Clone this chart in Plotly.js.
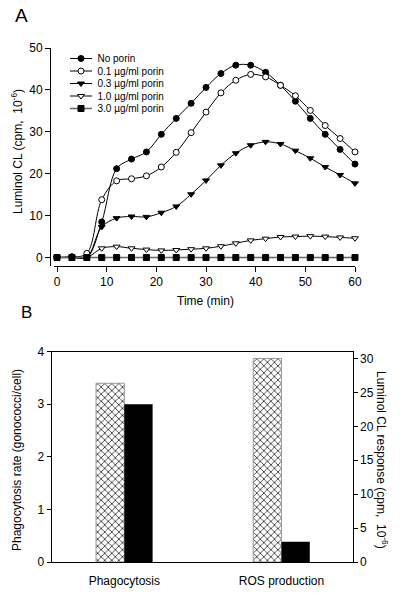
<!DOCTYPE html>
<html>
<head>
<meta charset="utf-8">
<script src="https://cdn.plot.ly/plotly-3.0.1.min.js"></script>
<style>html,body{margin:0;padding:0;background:#fff;}#chart{width:407px;height:596px;}</style>
</head>
<body>
<div id="chart"></div>
<script>
// ---- Panel A data ----
const timeMin = [0,3,6,9,12,15,18,21,24,27,30,33,36,39,42,45,48,51,54,57,60];
const noPorin = [0,0.2,0,8.5,21.2,23.5,25.2,29.4,33.2,36.8,40.6,43.9,45.9,45.9,44.2,41.1,37.3,33.2,29.4,25.8,22.3];
const porin01 = [0,0.1,1.0,13.8,18.3,18.8,19.5,21.6,25.1,29.8,34.7,39.3,42.3,43.7,43.1,41.1,38.6,35.1,31.5,28.4,25.2];
const porin03 = [0,0,0.1,7.3,9.4,9.8,9.7,10.7,12.2,15.1,18.4,22.0,24.9,26.8,27.6,27.1,25.5,23.7,21.6,19.7,17.7];
const porin10 = [0,0,0,2.2,2.6,2.2,1.9,1.7,1.8,2.0,2.2,2.7,3.4,4.1,4.5,4.9,5.0,5.1,5.0,4.8,4.6];
const porin30 = [0,0,0,0,0,0,0,0,0,0,0,0,0,0,0,0,0,0,0,0,0];
const seriesNames = ['No porin','0.1 µg/ml porin','0.3 µg/ml porin','1.0 µg/ml porin','3.0 µg/ml porin'];

// ---- Panel B data ----
const categoriesB = ['Phagocytosis','ROS production'];
const phagocytosisRate = [3.4, 3.0];   // control, porin (gonococci/cell)
const rosResponse = [30.0, 3.0];        // control, porin (cpm x10^-6)

const FONT = 'Liberation Sans, Arial, sans-serif';
const W = 407, H = 596;
const px = v => v / W;
const py = v => 1 - v / H;

function lineTrace(y, name, symbol, fill, lineColor, lw) {
  return {
    x: timeMin, y: y, name: name, type: 'scatter', mode: 'lines+markers',
    xaxis: 'x', yaxis: 'y', cliponaxis: false,
    line: {color: lineColor, width: lw, shape: 'spline', smoothing: 1},
    marker: {symbol: symbol, size: 6, color: fill, line: {color: '#000', width: 1}}
  };
}

const hatch = {color: '#fff', line: {color: '#999', width: 1},
               pattern: {shape: 'x', fgcolor: '#000', bgcolor: '#fff', size: 5, solidity: 0.25}};

const traces = [
  lineTrace(noPorin, seriesNames[0], 'circle', '#000', '#000', 1),
  lineTrace(porin01, seriesNames[1], 'circle', '#fff', '#000', 1),
  lineTrace(porin03, seriesNames[2], 'triangle-down', '#000', '#000', 1),
  lineTrace(porin10, seriesNames[3], 'triangle-down', '#fff', '#000', 1),
  lineTrace(porin30, seriesNames[4], 'square', '#000', '#666', 1.5),
  // Panel B: control (hatched) and porin (black)
  {x: [categoriesB[0]], y: [phagocytosisRate[0]], type: 'bar', xaxis: 'x2', yaxis: 'y3',
   width: 0.18, offset: -0.18, showlegend: false, marker: hatch},
  {x: [categoriesB[0]], y: [phagocytosisRate[1]], type: 'bar', xaxis: 'x2', yaxis: 'y3',
   width: 0.18, offset: 0, showlegend: false, marker: {color: '#000', line: {width: 0}}},
  {x: [categoriesB[1]], y: [rosResponse[0]], type: 'bar', xaxis: 'x2', yaxis: 'y4',
   width: 0.18, offset: -0.18, showlegend: false, marker: hatch},
  {x: [categoriesB[1]], y: [rosResponse[1]], type: 'bar', xaxis: 'x2', yaxis: 'y4',
   width: 0.18, offset: 0, showlegend: false, marker: {color: '#000', line: {width: 0}}}
];

const axisFont = {family: FONT, size: 12, color: '#000'};
const layout = {
  width: W, height: H,
  margin: {l: 0, r: 0, t: 0, b: 0},
  paper_bgcolor: '#fff', plot_bgcolor: '#fff',
  font: {family: FONT, color: '#000'},
  showlegend: true,
  legend: {x: px(61), y: py(50), xanchor: 'left', yanchor: 'top', bgcolor: 'rgba(0,0,0,0)',
           font: {family: FONT, size: 10, color: '#000'}, itemwidth: 30, tracegroupgap: 0},
  xaxis: {domain: [px(54.3), px(355)], range: [-0.55, 60], anchor: 'y',
          showline: true, linecolor: '#000', linewidth: 1, ticks: 'outside', ticklen: 5,
          tickcolor: '#000', dtick: 10, tick0: 0, showgrid: false, zeroline: false,
          tickfont: axisFont},
  yaxis: {domain: [py(265.5), py(48)], range: [-1.9, 50], anchor: 'free', position: px(50),
          showline: true, linecolor: '#000', linewidth: 1, ticks: 'outside', ticklen: 5,
          tickcolor: '#000', dtick: 10, tick0: 0, showgrid: false, zeroline: false,
          tickfont: axisFont},
  xaxis2: {domain: [px(51.7), px(352.7)], range: [-0.462, 1.453], anchor: 'y3', type: 'category',
           showline: true, mirror: true, linecolor: '#000', linewidth: 1, ticks: '',
           ticklabelstandoff: 8, showgrid: false, zeroline: false, tickfont: axisFont},
  yaxis3: {domain: [py(562), py(351.7)], range: [0, 4], anchor: 'x2',
           showline: true, linecolor: '#000', linewidth: 1, ticks: 'outside', ticklen: 4,
           tickcolor: '#000', dtick: 1, showgrid: false, zeroline: false, tickfont: axisFont},
  yaxis4: {domain: [py(562), py(351.7)], range: [0, 31], anchor: 'x2', overlaying: 'y3', side: 'right',
           showline: true, linecolor: '#000', linewidth: 1, ticks: 'outside', ticklen: 4,
           tickcolor: '#000', dtick: 5, showgrid: false, zeroline: false, tickfont: axisFont},
  annotations: [
    {text: 'A', xref: 'paper', yref: 'paper', x: px(13), y: py(16), xanchor: 'left', yanchor: 'middle',
     showarrow: false, font: {family: FONT, size: 19, color: '#000'}},
    {text: 'B', xref: 'paper', yref: 'paper', x: px(19), y: py(312), xanchor: 'left', yanchor: 'middle',
     showarrow: false, font: {family: FONT, size: 17, color: '#000'}},
    {text: 'Time (min)', xref: 'paper', yref: 'paper', x: px(205), y: py(301), xanchor: 'center', yanchor: 'middle',
     showarrow: false, font: {family: FONT, size: 12, color: '#000'}},
    {text: 'Luminol CL (cpm,  10<sup>-6</sup>)', xref: 'paper', yref: 'paper', x: px(17), y: py(152),
     xanchor: 'center', yanchor: 'middle', textangle: -90,
     showarrow: false, font: {family: FONT, size: 12, color: '#000'}},
    {text: 'Phagocytosis rate (gonococci/cell)', xref: 'paper', yref: 'paper', x: px(17), y: py(460),
     xanchor: 'center', yanchor: 'middle', textangle: -90,
     showarrow: false, font: {family: FONT, size: 12, color: '#000'}},
    {text: 'Luminol CL response (cpm,  10<sup>-6</sup>)', xref: 'paper', yref: 'paper', x: px(382), y: py(460),
     xanchor: 'center', yanchor: 'middle', textangle: 90,
     showarrow: false, font: {family: FONT, size: 12, color: '#000'}}
  ]
};

function parseTranslate(el) {
  const m = /translate\(\s*([-\d.eE]+)[ ,]+([-\d.eE]+)/.exec(el.getAttribute('transform') || '');
  return m ? [parseFloat(m[1]), parseFloat(m[2])] : [0, 0];
}

const gd = document.getElementById('chart');
Plotly.newPlot(gd, traces, layout, {displayModeBar: false, staticPlot: true}).then(() => {
  // compact the legend rows to match the reference's tight spacing
  const leg = gd.querySelector('g.legend');
  if (!leg) return;
  const [lx, ly] = parseTranslate(leg);
  const items = leg.querySelectorAll('g.traces');
  items.forEach((g, i) => {
    const markerX = 81, rowY = 58.5 + i * 12.5;
    g.setAttribute('transform', `translate(${markerX - 20 - lx},${rowY - ly})`);
    const lp = g.querySelector('.legendlines path');
    if (lp) lp.setAttribute('d', 'M9,0h22');
    const t = g.querySelector('text.legendtext');
    if (t) t.setAttribute('x', 36.5);
  });
  const clip = document.querySelector('clipPath[id^="legend"] rect');
  if (clip) { clip.setAttribute('height', 200); clip.setAttribute('width', 200); }
});
</script>
</body>
</html>
